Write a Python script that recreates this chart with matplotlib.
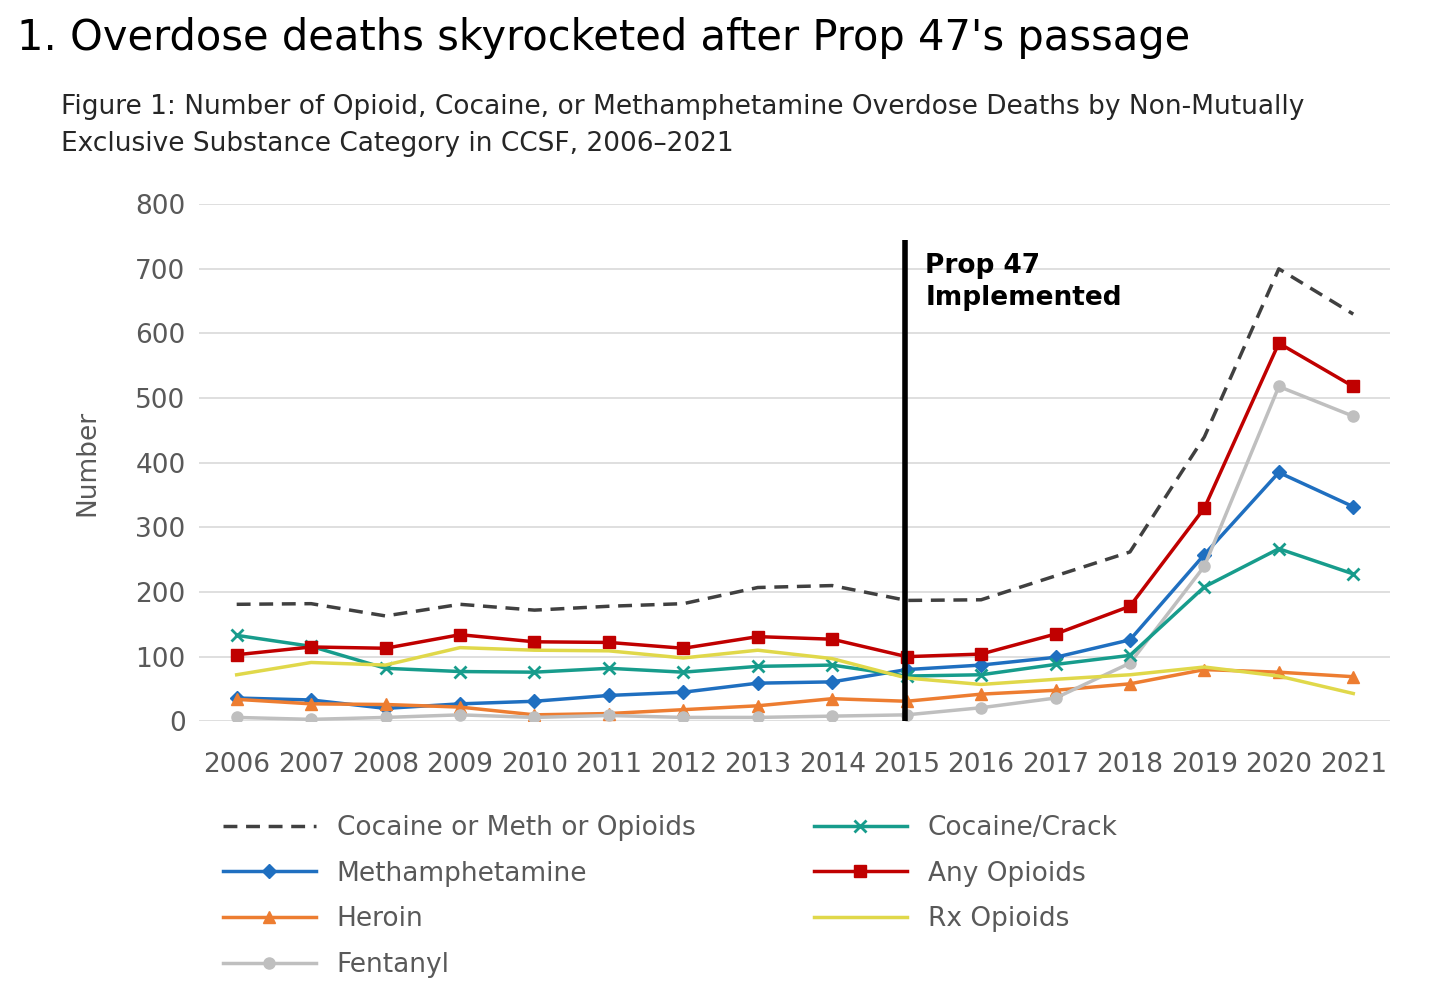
import matplotlib.pyplot as plt
import numpy as np

years = list(range(2006, 2022))
any_meth_opioids = [181, 182, 163, 181, 172, 178, 182, 207, 210, 187, 188, 225, 262, 440, 700, 630]
cocaine = [133, 116, 82, 77, 76, 82, 76, 85, 87, 70, 72, 88, 102, 208, 267, 228]
meth = [36, 33, 20, 27, 31, 40, 45, 59, 61, 80, 87, 99, 126, 258, 385, 332]
any_opioids = [103, 115, 113, 134, 123, 122, 113, 131, 127, 100, 104, 135, 178, 330, 585, 518]
heroin = [34, 27, 26, 22, 10, 12, 18, 24, 35, 31, 42, 48, 58, 80, 76, 69]
rx_opioids = [72, 91, 87, 114, 110, 109, 98, 110, 97, 67, 57, 65, 72, 84, 70, 43]
fentanyl = [6, 3, 6, 10, 6, 9, 6, 6, 8, 10, 21, 36, 90, 240, 518, 472]

fig = plt.figure(figsize=(14.56, 10.06), dpi=100)
ax = fig.add_axes([0.137, 0.283, 0.818, 0.514])

x = np.arange(len(years))
ax.plot(x, any_meth_opioids, color='#404040', ls=(0, (4, 2.5)), lw=2.5, label='Cocaine or Meth or Opioids')
ax.plot(x, meth, color='#1f6fc0', lw=2.5, marker='D', ms=7, label='Methamphetamine')
ax.plot(x, heroin, color='#ed7d31', lw=2.5, marker='^', ms=9, label='Heroin')
ax.plot(x, fentanyl, color='#bfbfbf', lw=2.5, marker='o', ms=8, label='Fentanyl')
ax.plot(x, cocaine, color='#179c8c', lw=2.5, marker='x', ms=9, mew=2, label='Cocaine/Crack')
ax.plot(x, any_opioids, color='#c00000', lw=2.5, marker='s', ms=9, label='Any Opioids')
ax.plot(x, rx_opioids, color='#e0d84a', lw=2.5, label='Rx Opioids')

ax.plot([8.98, 8.98], [0, 745], color='black', lw=4, clip_on=False, solid_capstyle='butt')
ax.text(9.25, 680, 'Prop 47\nImplemented', fontsize=19, fontweight='bold', va='center', linespacing=1.3)

ax.set_xlim(-0.5, 15.5)
ax.set_ylim(0, 800)
ax.set_yticks(range(0, 801, 100))
ax.set_xticks(x)
ax.set_xticklabels(years)
ax.tick_params(length=0, labelsize=19, labelcolor='#595959', pad=10)
ax.tick_params(axis='x', pad=22)
ax.grid(axis='y', color='#d9d9d9', lw=1.2)
ax.set_axisbelow(True)
for s in ax.spines.values():
    s.set_visible(False)
ax.set_ylabel('Number', fontsize=19, color='#595959', labelpad=25)

ax.legend(loc='upper left', bbox_to_anchor=(0.0, -0.135), ncol=2, frameon=False,
          fontsize=19, labelcolor='#595959', handlelength=3.5, columnspacing=4.5,
          labelspacing=0.75)

fig.text(0.012, 0.962, "1. Overdose deaths skyrocketed after Prop 47's passage", fontsize=30,
         fontweight='medium', va='center')
fig.text(0.042, 0.875, "Figure 1: Number of Opioid, Cocaine, or Methamphetamine Overdose Deaths by Non-Mutually\nExclusive Substance Category in CCSF, 2006\u20132021",
         fontsize=19, va='center', color='#262626', linespacing=1.55)

fig.savefig('out.png')
